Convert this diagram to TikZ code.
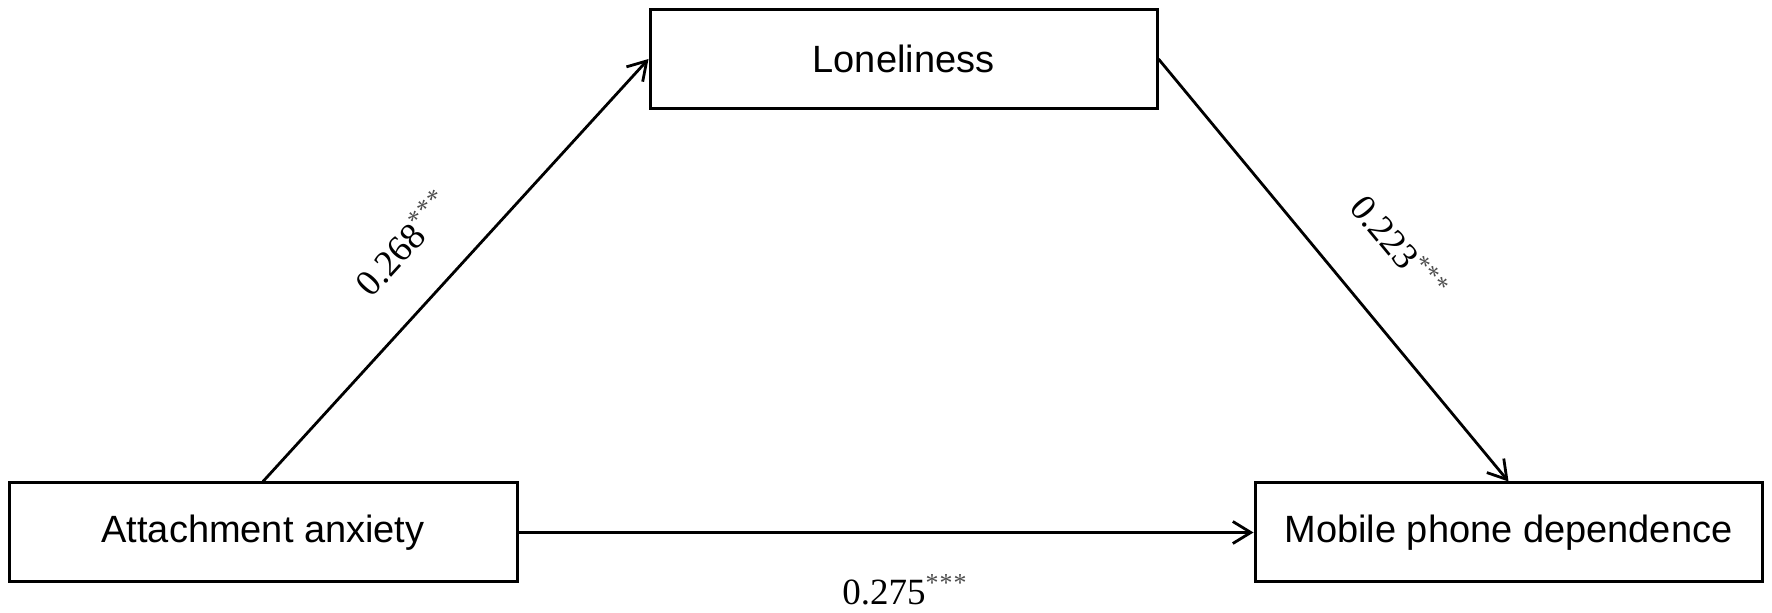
\documentclass[tikz,border=0pt]{standalone}
\usepackage{fontspec}
\setmainfont{Liberation Serif}
\setsansfont{Liberation Sans}
\usetikzlibrary{arrows.meta}
\tikzset{
  box/.style={draw=black, line width=1.5pt, minimum height=49.5pt, inner sep=0pt,
              font=\sffamily\fontsize{19}{22}\selectfont},
  conn/.style={line width=1.4pt, -{Straight Barb[length=9pt,width=11pt,line width=1.4pt]}},
  coef/.style={font=\rmfamily\fontsize{18.5}{22}\selectfont, inner sep=1pt}
}
\newcommand{\sig}{\textsuperscript{\textcolor{black!70}{*\kern0.5pt*\kern0.5pt*}}}
\begin{document}
\begin{tikzpicture}[x=0.5pt,y=-0.5pt]
\useasboundingbox (0,0) rectangle (1772,613);
\node[box, minimum width=253.5pt] (lon) at (903.5,59) {Loneliness};
\node[box, minimum width=254pt] (att) at (263,532.5) {Attachment anxiety};
\node[box, minimum width=253.5pt] (mob) at (1508.5,532.5) {Mobile phone dependence};
\draw[conn] (att.north) -- (lon.west);
\draw[conn] (lon.east) -- (mob.north);
\draw[conn] (att.east) -- (mob.west);
\node[coef, rotate=47.6] (l1) at (403,243) {0.268\sig};
\node[coef, rotate=-50.4] (l2) at (1400,247) {0.223\sig};
\node[coef] (l3) at (905,590) {0.275\sig};
\end{tikzpicture}
\end{document}
